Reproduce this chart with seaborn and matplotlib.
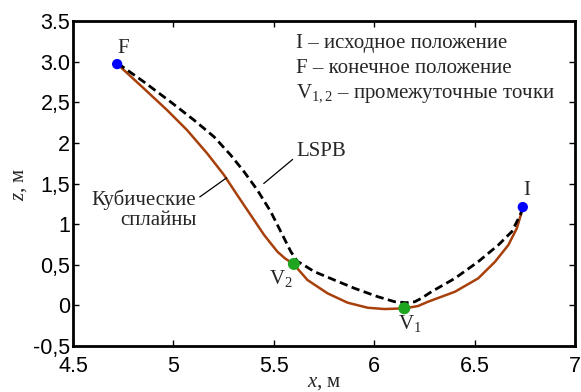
import matplotlib
matplotlib.use("Agg")
import matplotlib.pyplot as plt
import seaborn as sns
import pandas as pd

# Cubic spline trajectory
spline_x = [4.72, 4.735, 4.852, 4.968, 5.068, 5.168, 5.252, 5.318, 5.385, 5.452, 5.518, 5.555,
            5.598, 5.668, 5.768, 5.868, 5.968, 6.052, 6.152, 6.218, 6.268, 6.402, 6.518,
            6.602, 6.668, 6.71, 6.735, 6.74]
spline_z = [2.965, 2.938, 2.672, 2.405, 2.158, 1.871, 1.605, 1.358, 1.112, 0.866, 0.661, 0.58,
            0.509, 0.312, 0.148, 0.033, -0.029, -0.045, -0.036, -0.008, 0.045, 0.168, 0.333,
            0.538, 0.743, 0.948, 1.153, 1.21]

# LSPB trajectory
lspb_x = [4.72, 4.735, 4.852, 4.985, 5.102, 5.202, 5.285, 5.352, 5.418, 5.485, 5.535, 5.585,
          5.618, 5.635, 5.702, 5.802, 5.902, 6.018, 6.102, 6.16, 6.202, 6.235, 6.285,
          6.402, 6.518, 6.618, 6.685, 6.727, 6.74]
lspb_z = [2.97, 2.958, 2.753, 2.507, 2.282, 2.076, 1.851, 1.645, 1.42, 1.153, 0.907, 0.661,
          0.54, 0.518, 0.415, 0.312, 0.21, 0.107, 0.045, 0.033, 0.045, 0.087, 0.168,
          0.333, 0.538, 0.743, 0.907, 1.112, 1.21]

# Key points
end_x = [6.74, 4.72]
end_z = [1.21, 2.97]
via_x = [6.15, 5.60]
via_z = [-0.035, 0.51]

xticks = [4.5, 5, 5.5, 6, 6.5, 7]
xtick_labels = ["4.5", "5", "5.5", "6", "6.5", "7"]
yticks = [-0.5, 0, 0.5, 1, 1.5, 2, 2.5, 3, 3.5]
ytick_labels = ["-0,5", "0", "0,5", "1", "1,5", "2", "2,5", "3.0", "3.5"]

sns.set_theme(style="white")
plt.rcParams['font.family'] = ['Liberation Serif', 'DejaVu Serif']
plt.rcParams['mathtext.fontset'] = 'custom'
plt.rcParams['mathtext.rm'] = 'Liberation Serif'
plt.rcParams['mathtext.it'] = 'Liberation Serif:italic'
plt.rcParams['mathtext.bf'] = 'Liberation Serif:bold'

fig = plt.figure(figsize=(5.81, 3.92), dpi=100)
ax = fig.add_axes([0.1256, 0.1173, 0.8641, 0.8291])

df_s = pd.DataFrame({"x": spline_x, "z": spline_z})
df_l = pd.DataFrame({"x": lspb_x, "z": lspb_z})
sns.lineplot(data=df_s, x="x", y="z", sort=False, ax=ax, color="#A8400C", lw=1.8, zorder=2)
sns.lineplot(data=df_l, x="x", y="z", sort=False, ax=ax, color="black", lw=2.0,
             dashes=False, linestyle=(0, (3.0, 1.6)), zorder=3)
sns.scatterplot(x=end_x, y=end_z, ax=ax, color="#0000FF", s=55, edgecolor="none", zorder=4)
sns.scatterplot(x=via_x, y=via_z, ax=ax, color="#1FA51F", s=75, edgecolor="none", zorder=4)

ax.set_xlim(4.5, 7)
ax.set_ylim(-0.5, 3.5)
ax.set_xticks(xticks)
ax.set_xticklabels(xtick_labels, fontfamily="Liberation Sans", fontsize=15.5)
ax.set_yticks(yticks)
ax.set_yticklabels(ytick_labels, fontfamily="Liberation Sans", fontsize=15.5)
ax.tick_params(direction="in", length=4, width=1, top=True, right=True, pad=2,
               bottom=True, left=True, colors="black")
ax.tick_params(axis="x", pad=7)
for s in ax.spines.values():
    s.set_visible(True)
    s.set_color("black")
    s.set_linewidth(2)
ax.grid(False)

ax.set_xlabel("")
ax.set_ylabel("")
fig.text(0.558, 0.0, "$x$, м", ha="center", va="bottom", fontsize=15)
fig.text(0.018, 0.53, "$z$, м", ha="left", va="center", rotation=90, fontsize=15)

# Point labels
ax.text(4.75, 3.16, "F", fontsize=15, ha="center", va="center")
ax.text(6.76, 1.42, "I", fontsize=15, ha="center", va="center")
ax.text(5.535, 0.33, "V$_2$", fontsize=15, ha="center", va="center")
ax.text(6.18, -0.22, "V$_1$", fontsize=15, ha="center", va="center")

# Legend-like text
ax.text(5.61, 3.22, "I – исходное положение", fontsize=15, ha="left", va="center")
ax.text(5.61, 2.91, "F – конечное положение", fontsize=15, ha="left", va="center")
ax.text(5.61, 2.60, "V$_{1,2}$ – промежуточные точки", fontsize=15, ha="left", va="center")

# Annotations
ax.annotate("LSPB", xy=(5.45, 1.50), xytext=(5.61, 1.90), fontsize=15,
            ha="left", va="center",
            arrowprops=dict(arrowstyle="-", color="black", lw=0.9, shrinkA=0, shrinkB=0,
                            relpos=(0, 0.2)))
ax.annotate("Кубические\nсплайны", xy=(5.265, 1.57), xytext=(5.115, 1.18), fontsize=15,
            ha="right", va="center", multialignment="right", linespacing=1.1,
            arrowprops=dict(arrowstyle="-", color="black", lw=0.9, shrinkA=0, shrinkB=0,
                            relpos=(1.0, 0.75)))

fig.savefig("out.png", dpi=100)
